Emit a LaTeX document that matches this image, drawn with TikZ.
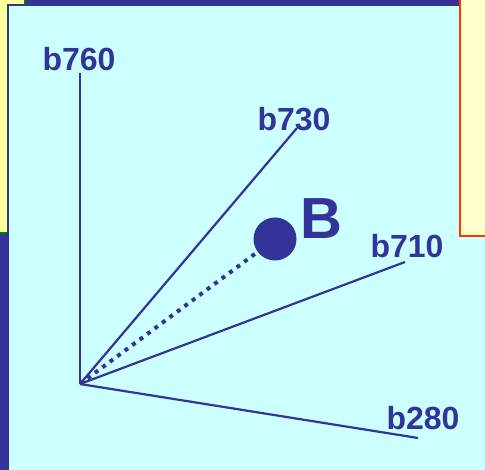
\documentclass[tikz,border=0pt]{standalone}
\usepackage{fontspec}
\setmainfont{Liberation Sans}
\definecolor{navy}{HTML}{333399}
\definecolor{cyanbg}{HTML}{CCFFFF}
\definecolor{paleyel}{HTML}{FFFF99}
\definecolor{creamy}{HTML}{FFFFCC}
\definecolor{redb}{HTML}{FF3300}
\definecolor{greenb}{HTML}{008000}
\begin{document}
\begin{tikzpicture}[x=1pt,y=-1pt,
  ray/.style={draw=navy,line width=2.2pt},
  lab/.style={text=navy,font=\bfseries\fontsize{32}{32}\selectfont,anchor=base,inner sep=0pt},
  dots/.style={draw=navy,line width=4pt,dash pattern=on 4pt off 5.3pt}]
\useasboundingbox (0,0) rectangle (485,470);
\fill[navy] (0,0) rectangle (485,470);
\filldraw[fill=paleyel,draw=greenb,line width=2pt] (-5,-5) rectangle (25,233.5);
\filldraw[fill=cyanbg,draw=navy,line width=2pt] (8,5) rectangle (495,480);
\filldraw[fill=creamy,draw=redb,line width=2pt] (460,-5) rectangle (495,236);
\coordinate (O) at (80,384);
\coordinate (e760) at (80,73);
\coordinate (e730) at (297,128);
\coordinate (e710) at (405,262);
\coordinate (e280) at (418,438);
\draw[ray] (O) -- (e760);
\draw[ray] (O) -- (e730);
\draw[ray] (O) -- (e710);
\draw[ray] (O) -- (e280);
\node[circle,fill=navy,inner sep=0pt,minimum size=43pt] (ptB) at (275,239) {};
\draw[dots] (O) -- (ptB.center);
\node[lab] (l760) at (79,71) {b760};
\node[lab] (l730) at (294,131) {b730};
\node[lab] (l710) at (407,258) {b710};
\node[lab] (l280) at (423,430) {b280};
\node[lab,font=\bfseries\fontsize{58}{58}\selectfont] (lB) at (321,239) {B};
\end{tikzpicture}
\end{document}
